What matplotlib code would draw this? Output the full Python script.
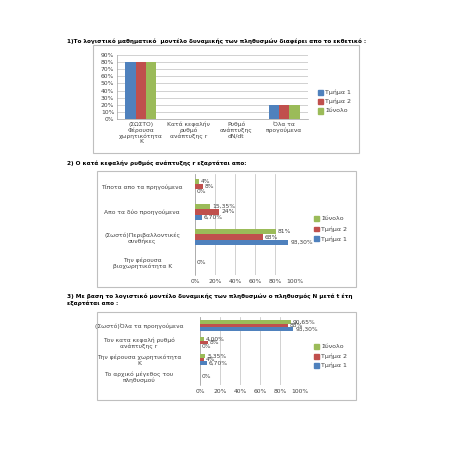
import matplotlib
matplotlib.use("Agg")
import matplotlib.pyplot as plt
from matplotlib.patches import Rectangle
import numpy as np

plt.rcParams['font.family'] = ['DejaVu Sans']

series = ["Τμήμα 1", "Τμήμα 2", "Σύνολο"]
colors = ["#4F81BD", "#C0504D", "#9BBB59"]

# Chart 1
title1 = "1)Το λογιστικό μαθηματικό  μοντέλο δυναμικής των πληθυσμών διαφέρει απο το εκθετικό :"
cats1 = ["(ΣΩΣΤΟ)\nΦέρουσα\nχωρητικότητα\nK", "Κατά κεφαλήν\nρυθμό\nανάπτυξης r",
         "Ρυθμό\nανάπτυξης\ndN/dt", "Όλα τα\nπρογούμενα"]
t1_vals1 = [80, 0, 0, 20]
t2_vals1 = [80, 0, 0, 20]
tot_vals1 = [80, 0, 0, 20]
yticks1 = ["0%", "10%", "20%", "30%", "40%", "50%", "60%", "70%", "80%", "90%"]

# Chart 2
title2 = "2) Ο κατά κεφαλήν ρυθμός ανάπτυξης r εξαρτάται απο:"
cats2 = ["Τίποτα απο τα πρηγούμενα", "Απο τα δύο προηγούμενα",
         "(Σωστό)Περιβαλλοντικές\nσυνθήκες", "Την φέρουσα\nβιοχωρητικότητα K"]
t1_vals2 = [0, 6.70, 93.30, 0]
t2_vals2 = [8, 24, 68, 0]
tot_vals2 = [4, 15.35, 81, 0]
t1_lab2 = ["0%", "6,70%", "93,30%", ""]
t2_lab2 = ["8%", "24%", "68%", "0%"]
tot_lab2 = ["4%", "15,35%", "81%", ""]

# Chart 3
title3 = "3) Με βαση το λογιστικό μοντέλο δυναμικής των πληθυσμών ο πληθυσμός N μετά t έτη\nεξαρτάται απο :"
cats3 = ["(Σωστό)Όλα τα προηγούμενα", "Τον κατα κεφαλή ρυθμό\nανάπτυξης r",
         "Την φέρουσα χωρητικότητα\nK", "Το αρχικό μέγεθος του\nπληθυσμού"]
t1_vals3 = [93.30, 0, 6.70, 0]
t2_vals3 = [88, 8, 4, 0]
tot_vals3 = [90.65, 4.00, 5.35, 0]
t1_lab3 = ["93,30%", "0%", "6,70%", ""]
t2_lab3 = ["88%", "8%", "4%", "0%"]
tot_lab3 = ["90,65%", "4,00%", "5,35%", ""]
xticks23 = ["0%", "20%", "40%", "60%", "80%", "100%"]

W = H = 453.0
fig = plt.figure(figsize=(4.53, 4.53), dpi=100)
fig.patch.set_facecolor("white")

def ax_px(x0, y0, x1, y1):
    return fig.add_axes([x0 / W, 1 - y1 / H, (x1 - x0) / W, (y1 - y0) / H])

def box_px(x0, y0, x1, y1):
    fig.patches.append(Rectangle((x0 / W, 1 - y1 / H), (x1 - x0) / W, (y1 - y0) / H,
                                 transform=fig.transFigure, fill=False,
                                 edgecolor="#BFBFBF", linewidth=0.8))

def legend_px(x, ys, names, cols):
    for yy, n, c in zip(ys, names, cols):
        fig.patches.append(Rectangle(((x - 2.5) / W, 1 - (yy + 2.5) / H), 5 / W, 5 / H,
                                     transform=fig.transFigure, color=c))
        fig.text((x + 5) / W, 1 - yy / H, n, fontsize=4.5, va="center", ha="left", color="#404040")

fs = 4.3
tfs = 4.15
txtc = "#404040"

# ---------- Chart 1 ----------
fig.text(67 / W, 1 - 41 / H, title1, fontsize=tfs, fontweight="bold", va="center", ha="left")
box_px(93, 45, 359, 153)
ax1 = ax_px(117, 55, 308, 119)
x = np.arange(len(cats1))
bw = 0.215
for i, (vals, c) in enumerate(zip([t1_vals1, t2_vals1, tot_vals1], colors)):
    ax1.bar(x + (i - 1) * bw, vals, width=bw, color=c, zorder=3)
ax1.set_ylim(0, 90)
ax1.set_xlim(-0.5, len(cats1) - 0.5)
ax1.set_yticks(np.arange(0, 91, 10))
ax1.set_yticklabels(yticks1, fontsize=fs, color=txtc)
ax1.set_xticks(x)
ax1.set_xticklabels(cats1, fontsize=fs, color=txtc, linespacing=1.1)
ax1.tick_params(length=0, pad=2)
ax1.grid(axis="y", color="#BFBFBF", linewidth=0.5, zorder=0)
for s in ["top", "right"]:
    ax1.spines[s].set_visible(False)
for s in ["left", "bottom"]:
    ax1.spines[s].set_color("#A0A0A0")
    ax1.spines[s].set_linewidth(0.5)
legend_px(320, [92, 101.5, 111], series, colors)

# ---------- horizontal bar chart helper ----------
def hchart(ax, cats, vals_list, labs_list):
    n = len(cats)
    y = np.arange(n)[::-1]
    bh = 0.21
    for i, (vals, labs, c) in enumerate(zip(vals_list, labs_list, colors)):
        yy = y + (i - 1) * bh
        ax.barh(yy, vals, height=bh, color=c, zorder=3)
        for v, l, p in zip(vals, labs, yy):
            if l:
                ax.text(v + 2, p, l, fontsize=fs, va="center", ha="left", color=txtc, zorder=4)
    ax.set_xlim(0, 100)
    ax.set_ylim(-0.5, n - 0.5)
    ax.set_yticks(y)
    ax.set_yticklabels(cats, fontsize=fs, color=txtc, linespacing=1.1, ha="center")
    ax.tick_params(axis="y", length=0, pad=38)
    ax.set_xticks(np.arange(0, 101, 20))
    ax.set_xticklabels(xticks23, fontsize=fs, color=txtc)
    ax.tick_params(axis="x", length=0, pad=3)
    ax.grid(axis="x", color="#BFBFBF", linewidth=0.5, zorder=0)
    for s in ["top", "right", "bottom"]:
        ax.spines[s].set_visible(False)
    ax.spines["left"].set_color("#A0A0A0")
    ax.spines["left"].set_linewidth(0.5)

# ---------- Chart 2 ----------
fig.text(67 / W, 1 - 163 / H, title2, fontsize=tfs, fontweight="bold", va="center", ha="left")
box_px(97, 171, 356, 287)
ax2 = ax_px(195, 174, 295, 275)
hchart(ax2, cats2, [t1_vals2, t2_vals2, tot_vals2], [t1_lab2, t2_lab2, tot_lab2])
legend_px(316, [219, 229, 239], series[::-1], colors[::-1])

# ---------- Chart 3 ----------
fig.text(67 / W, 1 - 300 / H, title3, fontsize=tfs, fontweight="bold", va="center", ha="left",
         linespacing=1.3)
box_px(97, 312, 356, 400)
ax3 = ax_px(200, 317, 300, 385)
hchart(ax3, cats3, [t1_vals3, t2_vals3, tot_vals3], [t1_lab3, t2_lab3, tot_lab3])
ax3.tick_params(axis="y", pad=44)
legend_px(316, [346, 356, 365], series[::-1], colors[::-1])

fig.savefig("out.png", dpi=100, facecolor="white")
